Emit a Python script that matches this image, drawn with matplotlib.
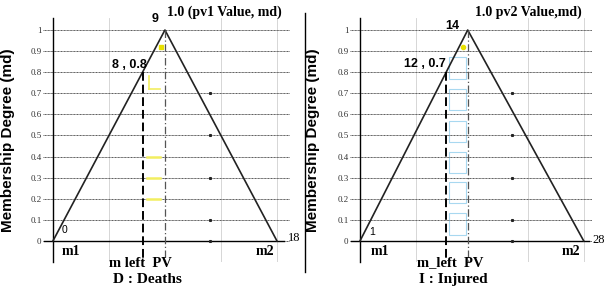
import matplotlib
matplotlib.use("Agg")
import matplotlib.pyplot as plt

# triangular membership functions (m1, PV, m2) and degrees
deaths_x = [0, 9, 18]
injured_x = [1, 14, 28]
md = [0, 1, 0]
yticks = [0, 0.1, 0.2, 0.3, 0.4, 0.5, 0.6, 0.7, 0.8, 0.9, 1]
ytick_labels = ["0", "0.1", "0.2", "0.3", "0.4", "0.5", "0.6", "0.7", "0.8", "0.9", "1"]
mleft_md = 0.8

SERIF = ["Liberation Serif", "DejaVu Serif"]
SANS = ["Liberation Sans", "DejaVu Sans"]

fig = plt.figure(figsize=(6.07, 2.88), dpi=100)


def px_axes(x0, x1, y0=18, y1=262):
    W, H = 607.0, 288.0
    return fig.add_axes([x0 / W, 1 - y1 / H, (x1 - x0) / W, (y1 - y0) / H])


def panel(ax, xs, xlim, texts, style):
    m1, pv, m2 = xs
    ax.set_xlim(*xlim)
    ax.set_ylim(-0.1, 1.057)
    for s in ax.spines.values():
        s.set_visible(False)
    ax.set_xticks([])
    ax.set_yticks(yticks)
    ax.set_yticklabels(ytick_labels, family=SERIF, fontsize=6.5, color="#333333")
    ax.tick_params(axis="y", length=0, pad=1)
    ax.grid(axis="y", linestyle=(0, (1, 0.5)), color="#555555", lw=0.7)
    # faint vertical grid at quarters
    span = m2 - m1
    for q in [0.25, 0.75, 1.0]:
        ax.axvline(m1 + q * span, color="#d0d0d0", lw=0.6, zorder=0)

    # axes lines
    ax.plot([m1, m1], [-0.1, 1.057], color="black", lw=1.0, clip_on=False)
    ax.plot([xlim[0] + 0.1, m2 + 0.6], [0, 0], color="black", lw=1.0, clip_on=False)

    # triangle
    ax.plot(xs, md, color="#222222", lw=1.2)

    xm = m1 + mleft_md * (pv - m1)
    ax.plot([xm, xm], [mleft_md, -0.1], color="black", lw=1.4, ls=(0, (4.5, 2)))
    ax.plot([pv, pv], [1, -0.1], color="#555555", lw=0.9, ls=(0, (6, 2, 1, 2)))

    # scan artifacts between m_left and PV
    w = pv - xm
    if style == "yellow":
        for y in [0.2, 0.3, 0.4]:
            ax.plot([xm + 0.2 * w, xm + 0.8 * w], [y, y], color="#f2ee60", lw=1.8)
        ax.plot([xm + 0.3 * w, xm + 0.8 * w], [0.72, 0.72], color="#f2ee60", lw=1.2)
        ax.plot([xm + 0.3 * w, xm + 0.3 * w], [0.72, 0.78], color="#f2ee60", lw=1.2)
        ax.plot([pv - 0.3], [0.92], "s", color="#e8e000", ms=2.5)
    else:
        for y0 in [0.03, 0.18, 0.32, 0.47, 0.62, 0.77]:
            ax.add_patch(plt.Rectangle((xm + 0.15 * w, y0), 0.75 * w, 0.1,
                                       fill=False, ec="#a8d8f0", lw=0.8))
        ax.plot([pv - 0.6], [0.92], "o", color="#e8e000", ms=3)
    dot_x = pv + 0.2 * span
    ax.plot([dot_x] * 5, [0.1, 0.3, 0.5, 0.7, 0.0], "s", color="#222222", ms=1.2)

    for (x, y, s, ha, fam, size, weight) in texts:
        ax.text(x, y, s, ha=ha, va="center", family=fam, fontsize=size,
                fontweight=weight, clip_on=False)


ax1 = px_axes(43, 290)
panel(ax1, deaths_x, (-0.8, 19.05), [
    (8.2, 1.05, "9", "center", SANS, 9, "bold"),
    (9.2, 1.085, "1.0 (pv1 Value, md)", "left", SERIF, 10, "bold"),
    (7.5, 0.835, "8 , 0.8", "right", SANS, 9, "bold"),
    (0.9, 0.05, "0", "center", SANS, 7.5, "normal"),
    (18.9, 0.015, "18", "left", SERIF, 9, "normal"),
    (1.4, -0.05, "m1", "center", SERIF, 10, "bold"),
    (7.0, -0.105, "m left  PV", "center", SERIF, 10.5, "bold"),
    (17.0, -0.05, "m2", "center", SERIF, 10, "bold"),
    (7.6, -0.183, "D : Deaths", "center", SERIF, 11, "bold"),
], "yellow")

ax2 = px_axes(350, 592)
panel(ax2, injured_x, (-0.21, 29.0), [
    (12.1, 1.02, "14", "center", SANS, 9, "bold"),
    (14.9, 1.085, "1.0 pv2 Value,md)", "left", SERIF, 10, "bold"),
    (11.4, 0.84, "12 , 0.7", "right", SANS, 9, "bold"),
    (2.45, 0.043, "1", "center", SANS, 7.5, "normal"),
    (29.05, 0.005, "28", "left", SERIF, 9, "normal"),
    (3.4, -0.05, "m1", "center", SERIF, 10, "bold"),
    (11.9, -0.105, "m_left  PV", "center", SERIF, 10.5, "bold"),
    (26.4, -0.05, "m2", "center", SERIF, 10, "bold"),
    (12.2, -0.183, "I : Injured", "center", SERIF, 11, "bold"),
], "blue")

# y labels and separator
fig.text(8 / 607, 1 - 140 / 288, "Membership Degree (md)", rotation=90,
         ha="center", va="center", family=SANS, fontsize=11, fontweight="bold")
fig.text(313 / 607, 1 - 140 / 288, "Membership Degree (md)", rotation=90,
         ha="center", va="center", family=SANS, fontsize=11, fontweight="bold")
fig.add_artist(plt.Line2D([305 / 607, 305 / 607], [1 - 272 / 288, 1 - 13 / 288],
                          color="black", lw=1.0))

fig.savefig("out.png", dpi=100)
